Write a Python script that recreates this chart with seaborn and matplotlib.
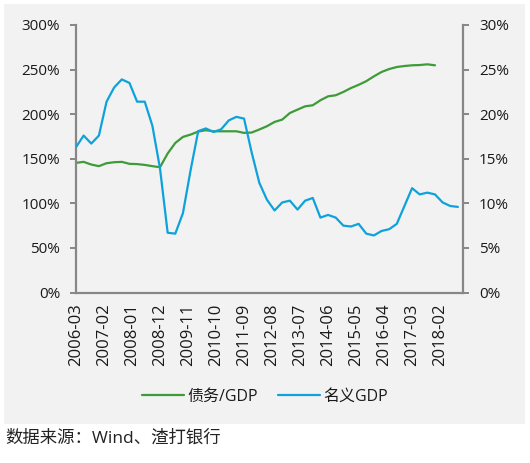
import numpy as np
import pandas as pd
import seaborn as sns
import matplotlib.pyplot as plt
from matplotlib.patches import Rectangle
from matplotlib.ticker import FuncFormatter

# 数据（季度，按图读取）
debt_gdp = [145.4, 146.5, 143.5, 141.7, 145.0, 146.1, 146.5, 144.3, 144.0, 143.1,
            141.7, 140.5, 155.9, 167.7, 174.5, 177.1, 180.5, 182.0, 180.8, 180.8,
            180.8, 180.8, 179.0, 179.4, 182.8, 186.5, 191.3, 193.9, 201.3, 205.1,
            208.8, 210.0, 215.6, 220.0, 221.2, 224.9, 229.3, 232.9, 237.0, 242.4,
            247.3, 250.6, 252.9, 254.0, 254.8, 255.1, 255.9, 254.8]
nominal_gdp = [16.3, 17.6, 16.7, 17.6, 21.4, 23.0, 23.9, 23.5, 21.4, 21.4,
               18.7, 13.9, 6.7, 6.6, 8.9, 13.7, 18.1, 18.4, 18.0, 18.3,
               19.3, 19.7, 19.5, 15.7, 12.3, 10.4, 9.2, 10.1, 10.3, 9.3,
               10.3, 10.6, 8.4, 8.7, 8.4, 7.5, 7.4, 7.7, 6.6, 6.4,
               6.9, 7.1, 7.7, 9.7, 11.7, 11.0, 11.2, 11.0, 10.1, 9.7, 9.6]
start = pd.Timestamp('2006-03-01')
quarters = pd.date_range(start, periods=len(nominal_gdp), freq='3MS')
tick_dates = pd.date_range(start, periods=14, freq='11MS')

def month_idx(d):
    return (d.year - start.year) * 12 + d.month - start.month

df_debt = pd.DataFrame({'x': [month_idx(d) for d in quarters[:len(debt_gdp)]], 'y': debt_gdp})
df_gdp = pd.DataFrame({'x': [month_idx(d) for d in quarters], 'y': nominal_gdp})

sns.set_style('white')
plt.rcParams['font.family'] = ['Open Sans', 'Noto Sans CJK SC', 'DejaVu Sans']

green = '#3d9c37'
blue = '#0ea2dc'
grey = '#878787'
txt = '#1a1a1a'

fig = plt.figure(figsize=(5.30, 4.63), dpi=100, facecolor='white')
fig.patches.append(Rectangle((4 / 530, 1 - 424 / 463), 521 / 530, 420 / 463,
                             transform=fig.transFigure, facecolor='#f2f2f2',
                             edgecolor='none', zorder=-1))
ax = fig.add_axes([76 / 530, 1 - 292.5 / 463, (463 - 76) / 530, (292.5 - 25) / 463])
ax.set_facecolor('#f2f2f2')
ax2 = ax.twinx()

sns.lineplot(data=df_debt, x='x', y='y', ax=ax, color=green, linewidth=1.6, label='债务/GDP', legend=False)
sns.lineplot(data=df_gdp, x='x', y='y', ax=ax2, color=blue, linewidth=1.6, label='名义GDP', legend=False)

ax.set_xlim(0, 152)
ax.set_ylim(0, 300)
ax2.set_ylim(0, 30)
ax.set_yticks(np.arange(0, 301, 50))
ax2.set_yticks(np.arange(0, 31, 5))
ax.yaxis.set_major_formatter(FuncFormatter(lambda v, p: f'{v:.0f}%'))
ax2.yaxis.set_major_formatter(FuncFormatter(lambda v, p: f'{v:.0f}%'))
ax.set_xticks([month_idx(d) for d in tick_dates])
ax.set_xticklabels([d.strftime('%Y-%m') for d in tick_dates], rotation=90)
ax.set_xlabel('')
ax.set_ylabel('')
ax2.set_ylabel('')

for a in (ax, ax2):
    for s in a.spines.values():
        s.set_visible(False)
ax.spines['left'].set_visible(True)
ax.spines['bottom'].set_visible(True)
ax2.spines['right'].set_visible(True)
for s in (ax.spines['left'], ax.spines['bottom'], ax2.spines['right']):
    s.set_color(grey)
    s.set_linewidth(1.6)

ax.tick_params(axis='y', direction='out', length=4.5, width=1.4, color=grey, pad=7, labelsize=11, labelcolor=txt)
ax.tick_params(axis='x', direction='out', length=4, width=1.4, color=grey, pad=4, labelsize=12, labelcolor=txt)
ax2.tick_params(axis='y', direction='out', length=4.5, width=1.4, color=grey, pad=7, labelsize=11, labelcolor=txt)

h1, l1 = ax.get_legend_handles_labels()
h2, l2 = ax2.get_legend_handles_labels()
fig.legend(h1 + h2, l1 + l2, loc='center', bbox_to_anchor=(0.5, 1 - 397 / 463), ncol=2,
           frameon=False, fontsize=11.5, handlelength=2.6, handletextpad=0.2,
           columnspacing=1.3, labelcolor=txt)

fig.text(5 / 530, 1 - 438 / 463, '数据来源：Wind、渣打银行', fontsize=12.5, color='#222222',
         va='center', ha='left')

fig.savefig('out.png', dpi=100, facecolor='white')
